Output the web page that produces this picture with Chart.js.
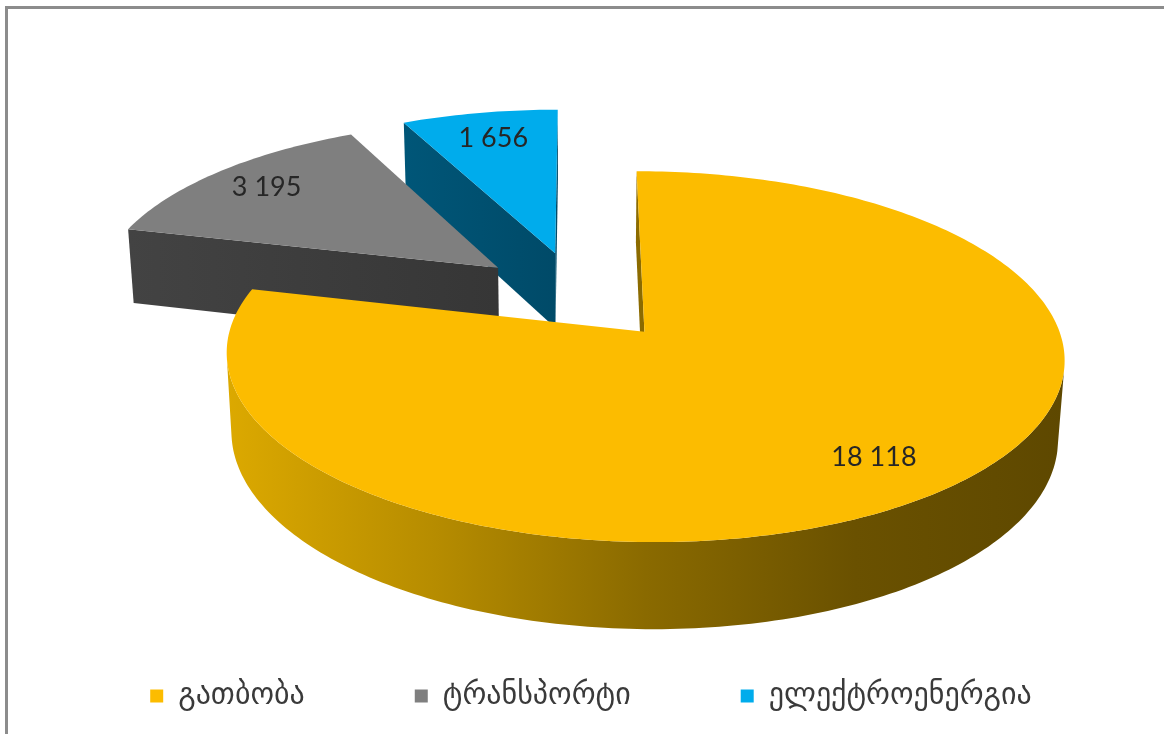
<!DOCTYPE html>
<html>
<head>
<meta charset="utf-8">
<script src="https://cdn.jsdelivr.net/npm/chart.js@4.4.1/dist/chart.umd.min.js"></script>
<style>
  html, body { margin: 0; padding: 0; background: #fff; overflow: hidden; }
  .frame { position: absolute; left: 5px; top: 6px; width: 1200px; height: 800px;
           border-left: 3px solid #8c8c8c; border-top: 3px solid #8c8c8c; }
  #chart { position: absolute; left: 0; top: 0; }
</style>
</head>
<body>
<div class="frame"></div>
<canvas id="chart" width="1164" height="734"></canvas>
<script>
const categories = ["გათბობა", "ტრანსპორტი", "ელექტროენერგია"];
const values = [18118, 3195, 1656];
const topColors = ["#FCBC00", "#7F7F7F", "#00ACEC"];
// shading stops for the walls of each slice (left -> right on screen)
const sideShades = [
  ["#DCA900", "#B68C00", "#8A6A00", "#6A5100", "#5E4800"],
  ["#434343", "#363636"],
  ["#005678", "#004A68"]
];

// camera and disc settings
const view = { dx: -13, L: 2800, sin: 0.427 };
const cosT = Math.sqrt(1 - view.sin * view.sin);
const depth = 86;       // thickness of the disc
const explode = 105;    // how far each slice is pulled out
const labelAt = [0.8, 0.82, 0.8];

const fmt = n => String(n).replace(/\B(?=(\d{3})+(?!\d))/g, " ");

// X right, Z towards the viewer (disc plane), Y up; origin at the pie centre
function project(a, X, Z, Y) {
  const s = view.L / (view.L - (Y * view.sin + Z * cosT));
  return [a.x + view.dx + X * s, a.y - (Y * cosT - Z * view.sin) * s];
}

// is a vertical face with horizontal normal (nx, nz) through (px, pz) facing the camera
function facing(nx, nz, px, pz) {
  return -px * nx + (view.L * cosT - pz) * nz > 0;
}

function fillPoly(ctx, pts, style) {
  ctx.beginPath();
  pts.forEach((q, k) => k ? ctx.lineTo(q[0], q[1]) : ctx.moveTo(q[0], q[1]));
  ctx.closePath();
  ctx.fillStyle = style;
  ctx.fill();
}

function drawSlice(ctx, p) {
  const { a, ox, oz, i } = p;
  const r = a.outerRadius;
  const span = a.endAngle - a.startAngle;
  const n = Math.max(2, Math.ceil(span / (Math.PI / 180)));
  const rim = [];
  for (let k = 0; k <= n; k++) {
    const t = a.startAngle + span * k / n;
    rim.push({ t, X: ox + r * Math.cos(t), Z: oz + r * Math.sin(t) });
  }
  const top = rim.map(q => project(a, q.X, q.Z, 0));
  const bot = rim.map(q => project(a, q.X, q.Z, -depth));
  const apexTop = project(a, ox, oz, 0);
  const apexBot = project(a, ox, oz, -depth);

  const xs = top.map(q => q[0]).concat(apexTop[0]);
  const grad = ctx.createLinearGradient(Math.min(...xs), 0, Math.max(...xs), 0);
  const stops = sideShades[i];
  stops.forEach((c, k) => grad.addColorStop(k / (stops.length - 1), c));

  // outer wall, only the runs that face the camera
  let run = [];
  const flush = () => {
    if (run.length > 1) {
      fillPoly(ctx, run.map(k => top[k]).concat(run.slice().reverse().map(k => bot[k])), grad);
    }
    run = [];
  };
  rim.forEach((q, k) => {
    if (facing(Math.cos(q.t), Math.sin(q.t), q.X, q.Z)) run.push(k); else flush();
  });
  flush();

  // the two cut faces
  const s0 = a.startAngle, s1 = a.endAngle;
  if (facing(Math.sin(s0), -Math.cos(s0), ox, oz)) {
    fillPoly(ctx, [apexTop, top[0], bot[0], apexBot], grad);
  }
  if (facing(-Math.sin(s1), Math.cos(s1), ox, oz)) {
    fillPoly(ctx, [apexTop, top[n], bot[n], apexBot], grad);
  }

  // top face
  fillPoly(ctx, [apexTop].concat(top), topColors[i]);
}

const pie3d = {
  id: "pie3d",
  beforeDatasetsDraw(chart) {
    const ctx = chart.ctx;
    const parts = chart.getDatasetMeta(0).data.map((arc, i) => {
      const a = arc.getProps(["x", "y", "startAngle", "endAngle", "outerRadius"], true);
      const mid = (a.startAngle + a.endAngle) / 2;
      return { i, a, mid, ox: Math.cos(mid) * explode, oz: Math.sin(mid) * explode };
    });

    // far slices first so nearer ones cover them
    parts.slice().sort((p, q) => p.oz - q.oz).forEach(p => drawSlice(ctx, p));

    // value labels on the top faces
    ctx.save();
    ctx.font = "27px Lato";
    ctx.fillStyle = "#262626";
    ctx.textAlign = "center";
    ctx.textBaseline = "middle";
    parts.forEach(p => {
      const rr = p.a.outerRadius * labelAt[p.i];
      const pt = project(p.a, p.ox + Math.cos(p.mid) * rr, p.oz + Math.sin(p.mid) * rr, 0);
      ctx.fillText(fmt(values[p.i]), pt[0], pt[1]);
    });
    ctx.restore();
    return false;
  }
};

new Chart(document.getElementById("chart"), {
  type: "pie",
  data: {
    labels: categories,
    datasets: [{
      data: values,
      backgroundColor: topColors,
      borderWidth: 0
    }]
  },
  options: {
    responsive: false,
    animation: false,
    events: [],
    radius: 404,
    layout: { padding: { left: 18, top: 20, bottom: 13 } },
    plugins: {
      tooltip: { enabled: false },
      legend: {
        position: "bottom",
        labels: {
          boxWidth: 13,
          boxHeight: 13,
          padding: 110,
          color: "#3a3a3a",
          font: { family: "DejaVu Sans", size: 30 }
        }
      }
    }
  },
  plugins: [pie3d]
});
</script>
</body>
</html>
